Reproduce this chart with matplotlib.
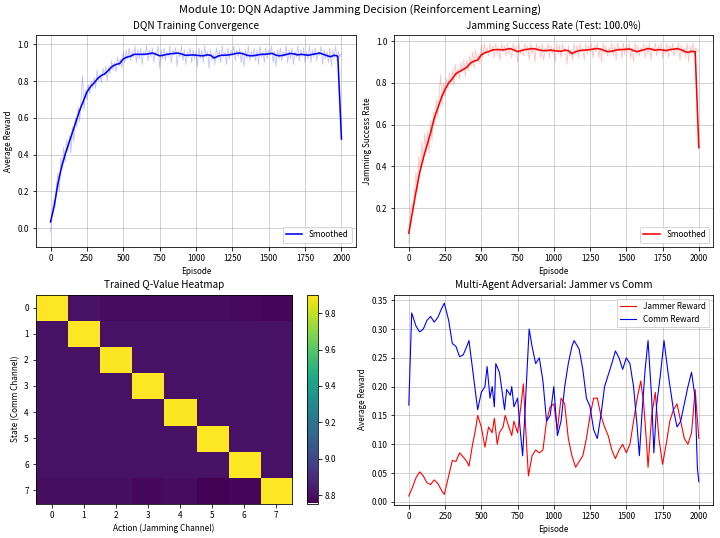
import numpy as np
import matplotlib
matplotlib.use('Agg')
import matplotlib.pyplot as plt

plt.rcParams['font.family'] = ['Noto Sans CJK SC', 'DejaVu Sans']
plt.rcParams['font.size'] = 8.2

# ---- 数据 ----
# smoothed curves, every 25 episodes
ep_s = list(range(0, 2001, 25))
reward_smooth = [0.035, 0.12, 0.24, 0.33, 0.40, 0.46, 0.52, 0.58, 0.64, 0.69,
                 0.74, 0.77, 0.79, 0.815, 0.83, 0.84, 0.86, 0.88, 0.89, 0.895,
                 0.92, 0.93, 0.935, 0.945, 0.945, 0.945, 0.945, 0.948, 0.952, 0.945,
                 0.937, 0.94, 0.945, 0.948, 0.95, 0.952, 0.947, 0.94, 0.94, 0.942,
                 0.94, 0.938, 0.937, 0.942, 0.94, 0.925, 0.935, 0.94, 0.94, 0.942,
                 0.945, 0.95, 0.952, 0.948, 0.94, 0.937, 0.938, 0.942, 0.945, 0.945,
                 0.948, 0.95, 0.94, 0.937, 0.94, 0.945, 0.95, 0.947, 0.942, 0.945,
                 0.942, 0.94, 0.945, 0.948, 0.952, 0.945, 0.938, 0.932, 0.94, 0.935,
                 0.485]
success_smooth = [0.08, 0.18, 0.28, 0.37, 0.44, 0.50, 0.56, 0.63, 0.68, 0.73,
                  0.77, 0.80, 0.82, 0.845, 0.855, 0.865, 0.875, 0.895, 0.905, 0.91,
                  0.935, 0.945, 0.95, 0.958, 0.96, 0.96, 0.958, 0.962, 0.965, 0.958,
                  0.95, 0.955, 0.96, 0.962, 0.965, 0.963, 0.958, 0.955, 0.955, 0.958,
                  0.955, 0.953, 0.952, 0.957, 0.955, 0.94, 0.95, 0.955, 0.957, 0.958,
                  0.96, 0.963, 0.965, 0.962, 0.955, 0.95, 0.952, 0.957, 0.96, 0.96,
                  0.962, 0.963, 0.955, 0.95, 0.955, 0.96, 0.965, 0.962, 0.957, 0.96,
                  0.958, 0.955, 0.96, 0.962, 0.965, 0.96, 0.952, 0.946, 0.952, 0.95,
                  0.49]

# raw curves, every 10 episodes
ep_r = list(range(0, 2001, 10))
reward_raw = [-0.02, 0.08, 0.15, 0.12, 0.22, 0.30, 0.20, 0.38, 0.32, 0.44,
              0.36, 0.48, 0.42, 0.50, 0.41, 0.55, 0.47, 0.60, 0.55, 0.66,
              0.58, 0.70, 0.83, 0.64, 0.75, 0.70, 0.78, 0.73, 0.80, 0.76,
              0.82, 0.76, 0.86, 0.80, 0.84, 0.79, 0.87, 0.83, 0.88, 0.80,
              0.88, 0.84, 0.91, 0.86, 0.90, 0.85, 0.93, 0.88, 0.92, 0.87,
              0.96, 0.90, 0.97, 0.92, 0.98, 0.91, 0.96, 0.93, 0.99, 0.90,
              0.97, 0.92, 0.98, 0.89, 0.96, 0.94, 0.99, 0.91, 0.97, 0.93,
              0.98, 0.90, 0.96, 0.94, 0.99, 0.87, 0.97, 0.92, 0.98, 0.91,
              0.96, 0.93, 0.99, 0.90, 0.97, 0.94, 0.98, 0.88, 0.96, 0.93,
              0.99, 0.91, 0.97, 0.89, 0.96, 0.93, 0.98, 0.90, 0.97, 0.92,
              0.96, 0.88, 0.98, 0.92, 0.97, 0.90, 0.99, 0.93, 0.96, 0.87,
              0.97, 0.91, 0.95, 0.89, 0.98, 0.92, 0.97, 0.90, 0.99, 0.93,
              0.96, 0.89, 0.98, 0.92, 0.97, 0.94, 0.99, 0.91, 0.97, 0.93,
              0.98, 0.90, 0.96, 0.88, 0.97, 0.92, 0.99, 0.91, 0.96, 0.93,
              0.98, 0.91, 0.97, 0.89, 0.99, 0.93, 0.96, 0.90, 0.98, 0.92,
              0.97, 0.94, 0.99, 0.90, 0.96, 0.88, 0.97, 0.92, 0.98, 0.91,
              0.96, 0.93, 0.99, 0.90, 0.97, 0.92, 0.98, 0.89, 0.96, 0.93,
              0.99, 0.91, 0.97, 0.93, 0.98, 0.90, 0.96, 0.92, 0.99, 0.90,
              0.97, 0.93, 0.98, 0.91, 0.96, 0.94, 0.99, 0.89, 0.97, 0.92,
              0.96, 0.90, 0.98, 0.88, 0.97, 0.92, 0.99, 0.91, 0.96, 0.93,
              0.95]
success_raw = [0.03, 0.16, 0.22, 0.19, 0.30, 0.37, 0.28, 0.45, 0.38, 0.52,
               0.42, 0.56, 0.47, 0.57, 0.46, 0.62, 0.52, 0.66, 0.60, 0.72,
               0.63, 0.75, 0.84, 0.69, 0.80, 0.74, 0.82, 0.77, 0.85, 0.79,
               0.86, 0.79, 0.89, 0.83, 0.87, 0.82, 0.90, 0.85, 0.91, 0.83,
               0.91, 0.86, 0.93, 0.88, 0.95, 0.87, 0.96, 0.90, 0.94, 0.89,
               0.98, 0.92, 0.99, 0.94, 0.97, 0.93, 0.99, 0.95, 0.98, 0.92,
               0.99, 0.94, 0.97, 0.91, 0.99, 0.95, 0.98, 0.93, 0.99, 0.94,
               0.97, 0.92, 0.99, 0.95, 0.98, 0.90, 0.99, 0.94, 0.97, 0.93,
               0.99, 0.95, 0.98, 0.91, 0.99, 0.94, 0.97, 0.90, 0.99, 0.95,
               0.98, 0.92, 0.99, 0.91, 0.97, 0.95, 0.99, 0.92, 0.98, 0.94,
               0.97, 0.90, 0.99, 0.94, 0.98, 0.92, 0.99, 0.95, 0.97, 0.89,
               0.98, 0.93, 0.96, 0.91, 0.99, 0.94, 0.98, 0.92, 0.99, 0.95,
               0.97, 0.91, 0.99, 0.94, 0.98, 0.95, 0.99, 0.92, 0.98, 0.95,
               0.99, 0.92, 0.97, 0.90, 0.99, 0.94, 0.98, 0.93, 0.97, 0.95,
               0.99, 0.93, 0.98, 0.91, 0.99, 0.95, 0.97, 0.92, 0.99, 0.94,
               0.98, 0.95, 0.99, 0.92, 0.97, 0.90, 0.99, 0.94, 0.98, 0.93,
               0.97, 0.95, 0.99, 0.92, 0.98, 0.94, 0.99, 0.91, 0.97, 0.95,
               0.99, 0.93, 0.98, 0.95, 0.99, 0.92, 0.97, 0.94, 0.99, 0.92,
               0.98, 0.95, 0.99, 0.93, 0.97, 0.95, 0.99, 0.91, 0.98, 0.94,
               0.97, 0.92, 0.99, 0.90, 0.98, 0.94, 0.99, 0.93, 0.97, 0.95,
               0.96]

# Q-table (state x action)
q_values = [
    [9.903, 8.810, 8.790, 8.790, 8.790, 8.790, 8.785, 8.770],
    [8.810, 9.900, 8.810, 8.810, 8.810, 8.810, 8.810, 8.810],
    [8.810, 8.810, 9.895, 8.810, 8.810, 8.810, 8.810, 8.810],
    [8.810, 8.810, 8.810, 9.900, 8.810, 8.810, 8.810, 8.810],
    [8.810, 8.810, 8.810, 8.810, 9.895, 8.810, 8.810, 8.810],
    [8.810, 8.810, 8.810, 8.810, 8.810, 9.900, 8.810, 8.810],
    [8.810, 8.810, 8.810, 8.810, 8.810, 8.812, 9.900, 8.810],
    [8.800, 8.800, 8.800, 8.780, 8.790, 8.754, 8.770, 9.903],
]
channels = list(range(8))

# multi-agent curves
ep_ma = [0, 20, 50, 75, 100, 125, 150, 175, 200, 225, 245, 275, 300, 325, 350,
         375, 400, 415, 435, 450, 475, 500, 525, 540, 560, 575, 590, 600, 625,
         650, 660, 675, 700, 710, 725, 750, 770, 785, 800, 830, 850, 875, 900,
         925, 950, 975, 1000, 1025, 1050, 1075, 1100, 1125, 1140, 1175, 1200,
         1225, 1250, 1275, 1300, 1325, 1350, 1375, 1400, 1425, 1450, 1475, 1500,
         1525, 1550, 1575, 1590, 1610, 1630, 1650, 1675, 1690, 1710, 1735, 1760,
         1790, 1825, 1850, 1875, 1900, 1925, 1950, 1975, 1990, 2000]
comm_reward = [0.168, 0.328, 0.305, 0.295, 0.300, 0.315, 0.322, 0.312, 0.320,
               0.335, 0.345, 0.315, 0.275, 0.270, 0.252, 0.255, 0.270, 0.280,
               0.240, 0.210, 0.160, 0.190, 0.200, 0.235, 0.180, 0.200, 0.165,
               0.240, 0.225, 0.180, 0.160, 0.195, 0.185, 0.200, 0.165, 0.180,
               0.120, 0.080, 0.150, 0.300, 0.270, 0.240, 0.250, 0.210, 0.140,
               0.150, 0.200, 0.115, 0.140, 0.200, 0.240, 0.270, 0.280, 0.265,
               0.230, 0.180, 0.165, 0.125, 0.110, 0.150, 0.200, 0.220, 0.240,
               0.262, 0.250, 0.230, 0.250, 0.240, 0.200, 0.130, 0.080, 0.160,
               0.230, 0.280, 0.180, 0.085, 0.170, 0.220, 0.280, 0.220, 0.160,
               0.130, 0.140, 0.170, 0.200, 0.225, 0.180, 0.060, 0.035]
ep_jam = [0, 25, 50, 75, 100, 125, 150, 175, 200, 225, 245, 275, 300, 325, 350,
          375, 400, 415, 440, 460, 475, 500, 525, 550, 575, 590, 610, 625, 650,
          665, 690, 710, 725, 750, 775, 790, 810, 825, 850, 875, 900, 925, 950,
          975, 1000, 1025, 1050, 1075, 1100, 1125, 1150, 1175, 1200, 1225, 1250,
          1275, 1300, 1325, 1350, 1375, 1400, 1425, 1450, 1475, 1500, 1525, 1550,
          1575, 1600, 1620, 1640, 1650, 1675, 1700, 1725, 1750, 1775, 1800, 1825,
          1850, 1875, 1900, 1925, 1950, 1975, 2000]
jammer_reward = [0.010, 0.025, 0.042, 0.052, 0.045, 0.033, 0.030, 0.038, 0.032,
                 0.020, 0.013, 0.045, 0.072, 0.070, 0.085, 0.078, 0.070, 0.062,
                 0.100, 0.125, 0.150, 0.130, 0.095, 0.130, 0.120, 0.145, 0.100,
                 0.120, 0.130, 0.150, 0.130, 0.115, 0.140, 0.120, 0.170, 0.205,
                 0.110, 0.045, 0.080, 0.090, 0.085, 0.090, 0.140, 0.165, 0.170,
                 0.125, 0.180, 0.170, 0.110, 0.080, 0.060, 0.070, 0.080, 0.110,
                 0.150, 0.180, 0.180, 0.150, 0.130, 0.115, 0.090, 0.075, 0.090,
                 0.100, 0.085, 0.100, 0.140, 0.180, 0.210, 0.170, 0.100, 0.060,
                 0.150, 0.190, 0.110, 0.065, 0.100, 0.140, 0.160, 0.170, 0.140,
                 0.110, 0.100, 0.120, 0.195, 0.110]

W, H = 720, 538
DPI = 72
fig = plt.figure(figsize=(W / DPI, H / DPI), dpi=DPI)


def box(x0, y0, x1, y1):
    # pixel box -> figure fraction
    return [x0 / W, 1 - y1 / H, (x1 - x0) / W, (y1 - y0) / H]


ax1 = fig.add_axes(box(36, 35, 356, 246.7))
ax2 = fig.add_axes(box(394.3, 35, 713.3, 246.7))
ax3 = fig.add_axes(box(35.7, 294.5, 291.7, 503.5))
cax = fig.add_axes(box(307, 294.5, 317.7, 503.5))
ax4 = fig.add_axes(box(394.3, 294.5, 713.3, 504.7))

TS = 10

# 1 reward
ax1.plot(ep_r, reward_raw, color='blue', alpha=0.25, lw=0.8)
ax1.plot(ep_s, reward_smooth, color='blue', lw=1.6, label='Smoothed')
ax1.set_title('DQN Training Convergence', fontsize=TS)
ax1.set_xlabel('Episode')
ax1.set_ylabel('Average Reward')
ax1.set_xticks(range(0, 2001, 250))
ax1.set_ylim(-0.1, 1.05)
ax1.legend(loc='lower right')
ax1.grid(True, alpha=0.7)

# 2 success rate
ax2.plot(ep_r, success_raw, color='red', alpha=0.25, lw=0.8)
ax2.plot(ep_s, success_smooth, color='red', lw=1.6, label='Smoothed')
ax2.set_title('Jamming Success Rate (Test: 100.0%)', fontsize=TS)
ax2.set_xlabel('Episode')
ax2.set_ylabel('Jamming Success Rate')
ax2.set_xticks(range(0, 2001, 250))
ax2.set_ylim(0.015, 1.03)
ax2.legend(loc='lower right')
ax2.grid(True, alpha=0.7)

# 3 heatmap
q = np.array(q_values)
im = ax3.imshow(q, cmap='viridis', aspect='auto')
ax3.set_title('Trained Q-Value Heatmap', fontsize=TS)
ax3.set_xlabel('Action (Jamming Channel)')
ax3.set_ylabel('State (Comm Channel)')
ax3.set_xticks(channels)
ax3.set_yticks(channels)
fig.colorbar(im, cax=cax)

# 4 adversarial
ax4.plot(ep_jam, jammer_reward, color='red', lw=1.1, label='Jammer Reward')
ax4.plot(ep_ma, comm_reward, color='blue', lw=1.1, label='Comm Reward')
ax4.set_title('Multi-Agent Adversarial: Jammer vs Comm', fontsize=TS)
ax4.set_xlabel('Episode')
ax4.set_ylabel('Average Reward')
ax4.set_xticks(range(0, 2001, 250))
ax4.set_ylim(-0.005, 0.36)
ax4.legend(loc='upper right')
ax4.grid(True, alpha=0.7)

fig.suptitle('Module 10: DQN Adaptive Jamming Decision (Reinforcement Learning)',
             fontsize=11, y=0.99)

plt.savefig('out.png', dpi=DPI)
